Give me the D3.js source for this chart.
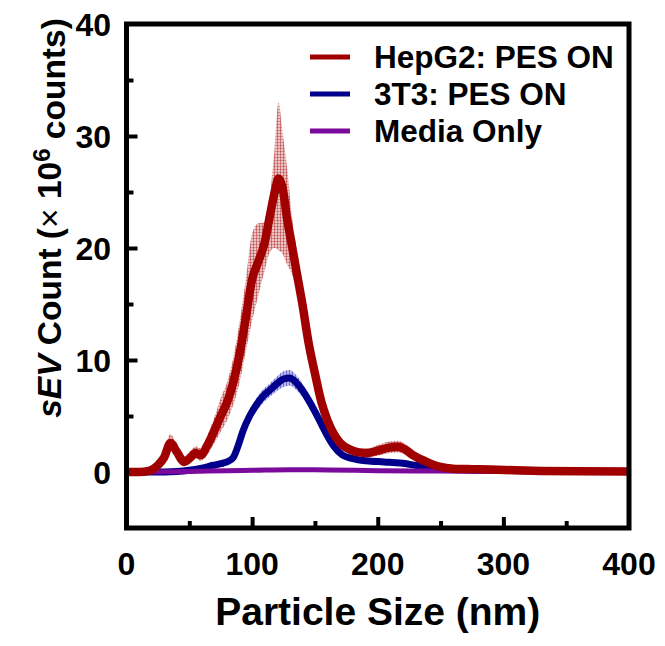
<!DOCTYPE html>
<html><head><meta charset="utf-8">
<script src="https://cdn.jsdelivr.net/npm/d3@7"></script>
<style>body{margin:0;background:#fff}svg{display:block}text{font-family:"Liberation Sans",Arial,sans-serif;font-weight:bold}</style>
</head><body>
<script>
// ---- data ----
const hepX = [0,10,18,25,30,35,40,46,51,55,59,64,70,75,80,85,90,95,100,105,110,114,118,121,124,128,132,136,140,145,150,155,160,165,170,178,185,192,200,208,216,222,228,235,242,250,260,275,290,310,330,360,400];
const hepMean = [0,0,0.1,0.6,1.3,2.6,1.8,0.9,1.3,1.7,1.5,2.3,3.7,5.0,6.2,8.0,10.5,13.8,17.2,18.8,20.5,22.8,25.0,26.2,25.5,22.5,20.0,17.5,15.0,11.5,8.8,6.3,4.6,3.4,2.6,2.0,1.75,1.7,1.9,2.15,2.25,2.0,1.5,1.1,0.75,0.45,0.3,0.25,0.22,0.15,0.1,0.07,0.05];
const hepUpper = [0,0,0.2,0.9,1.9,3.4,2.4,1.4,1.9,2.3,2.1,3.2,4.9,6.6,8.0,10.2,13.4,17.2,21.3,22.2,22.3,24.5,29.0,33.0,30.5,27.0,22.5,19.6,16.6,12.8,9.8,7.2,5.3,4.0,3.0,2.4,2.1,2.1,2.4,2.7,2.8,2.5,1.9,1.35,0.95,0.58,0.38,0.3,0.26,0.18,0.12,0.08,0.06];
const hepLower = [0,0,0.02,0.4,0.8,1.9,1.3,0.55,0.8,1.2,1.0,1.5,2.6,3.6,4.6,6.0,8.0,10.8,13.5,15.8,18.0,19.6,20.0,19.8,19.5,18.5,17.6,15.8,13.6,10.3,7.8,5.5,3.9,2.85,2.2,1.6,1.4,1.35,1.45,1.65,1.75,1.55,1.2,0.85,0.58,0.34,0.22,0.2,0.18,0.12,0.08,0.06,0.04];

const t3X = [0,20,40,50,60,69,75,80,85,89,93,98,104,109,114,120,125,130,135,140,144,150,155,160,165,172,180,191,205,218,230,244,258,271,290,320,360,400];
const t3Mean = [0,0,0.05,0.15,0.35,0.6,0.75,0.9,1.3,2.4,3.75,5.0,6.1,6.8,7.3,7.9,8.3,8.4,8.0,7.3,6.6,5.4,4.3,3.2,2.3,1.5,1.2,1.0,0.9,0.8,0.6,0.35,0.25,0.2,0.15,0.1,0.06,0.04];
const t3Upper = [0,0,0.07,0.2,0.45,0.72,0.9,1.1,1.6,2.8,4.25,5.55,6.7,7.4,7.9,8.55,9.0,9.1,8.65,7.9,7.15,5.9,4.75,3.6,2.6,1.75,1.38,1.14,1.02,0.9,0.68,0.41,0.3,0.24,0.18,0.12,0.08,0.05];
const t3Lower = [0,0,0.03,0.1,0.25,0.48,0.6,0.7,1.0,2.0,3.25,4.45,5.5,6.2,6.7,7.25,7.6,7.7,7.35,6.7,6.05,4.9,3.85,2.8,2.0,1.25,1.02,0.86,0.78,0.7,0.52,0.29,0.2,0.16,0.12,0.08,0.04,0.03];

const mediaX = [0,50,80,100,130,160,200,250,300,400];
const mediaMean = [0,0.05,0.12,0.15,0.2,0.18,0.12,0.08,0.05,0.03];

const seriesNames = ["HepG2: PES ON","3T3: PES ON","Media Only"];
const seriesColors = ["#a00000","#00008b","#7a0a9c"];
const xTicks = [0,100,200,300,400];
const xMinor = [50,150,250,350];
const yTicks = [0,10,20,30,40];
const yMinor = [5,15,25,35];

// ---- chart ----
const W = 665, H = 646;
const svg = d3.select("body").append("svg").attr("width", W).attr("height", H);
const x = d3.scaleLinear().domain([0,400]).range([126.5,629]);
const y = d3.scaleLinear().domain([-5,40]).range([528,24]);

const defs = svg.append("defs");
defs.append("clipPath").attr("id","clip").append("rect")
  .attr("x", x(0)).attr("y", y(40)).attr("width", x(400)-x(0)).attr("height", y(-5)-y(40));
const pr = defs.append("pattern").attr("id","hatchR").attr("patternUnits","userSpaceOnUse").attr("width",3).attr("height",3);
pr.append("rect").attr("width",3).attr("height",3).attr("fill","rgba(205,110,110,0.40)");
pr.append("rect").attr("x",1).attr("width",1).attr("height",3).attr("fill","rgba(175,30,30,0.45)");
pr.append("rect").attr("y",1).attr("width",3).attr("height",1).attr("fill","rgba(175,30,30,0.35)");
const pb = defs.append("pattern").attr("id","hatchB").attr("patternUnits","userSpaceOnUse").attr("width",3).attr("height",3);
pb.append("rect").attr("width",3).attr("height",3).attr("fill","rgba(100,100,210,0.45)");
pb.append("rect").attr("x",1).attr("width",1).attr("height",3).attr("fill","rgba(20,20,170,0.45)");

const g = svg.append("g").attr("clip-path","url(#clip)");
const curve = d3.curveMonotoneX;
function band(xs, lo, hi){ return d3.area().curve(curve).x((d,i)=>x(xs[i])).y0((d,i)=>y(lo[i])).y1((d,i)=>y(hi[i]))(xs); }
function line(xs, ys){ return d3.line().curve(curve).x((d,i)=>x(xs[i])).y((d,i)=>y(ys[i]))(xs); }

g.append("path").attr("d", band(t3X, t3Lower, t3Upper)).attr("fill","url(#hatchB)");
g.append("path").attr("d", line(t3X, t3Mean)).attr("fill","none").attr("stroke",seriesColors[1]).attr("stroke-width",7);
g.append("path").attr("d", line(mediaX, mediaMean)).attr("fill","none").attr("stroke",seriesColors[2]).attr("stroke-width",5);
g.append("path").attr("d", band(hepX, hepLower, hepUpper)).attr("fill","url(#hatchR)");
g.append("path").attr("d", line(hepX, hepMean)).attr("fill","none").attr("stroke",seriesColors[0]).attr("stroke-width",8.5).attr("stroke-linejoin","round");

// frame
svg.append("rect").attr("x",x(0)).attr("y",y(40)).attr("width",x(400)-x(0)).attr("height",y(-5)-y(40))
  .attr("fill","none").attr("stroke","#000").attr("stroke-width",5);

// axes via d3 (inward ticks)
function styleAxis(sel){ sel.select(".domain").remove(); sel.selectAll("line").attr("stroke","#000").attr("stroke-width",4); }
svg.append("g").attr("transform",`translate(0,${y(-5)})`)
  .call(d3.axisBottom(x).tickValues([100,200,300]).tickSize(-11).tickFormat("")).call(styleAxis);
svg.append("g").attr("transform",`translate(0,${y(-5)})`)
  .call(d3.axisBottom(x).tickValues(xMinor).tickSize(-7).tickFormat("")).call(styleAxis);
svg.append("g").selectAll("text").data(xTicks).join("text")
  .attr("x", d=>x(d)).attr("y", 575).attr("text-anchor","middle").attr("font-size",32).text(d=>d);

svg.append("g").attr("transform",`translate(${x(0)},0)`)
  .call(d3.axisLeft(y).tickValues([10,20,30]).tickSize(-11).tickFormat("")).call(styleAxis);
svg.append("g").attr("transform",`translate(${x(0)},0)`)
  .call(d3.axisLeft(y).tickValues(yMinor).tickSize(-7).tickFormat("")).call(styleAxis);
svg.append("g").selectAll("text").data(yTicks).join("text")
  .attr("x", 111).attr("y", d=>y(d)).attr("dy","0.36em").attr("text-anchor","end").attr("font-size",32).text(d=>d);

// axis titles
svg.append("text").attr("x",(x(0)+x(400))/2).attr("y",625).attr("text-anchor","middle").attr("font-size",39).text("Particle Size (nm)");
const yl = svg.append("text").attr("transform","translate(61,218) rotate(-90)").attr("text-anchor","middle").attr("font-size",33.5);
yl.append("tspan").attr("font-style","italic").text("sEV");
yl.append("tspan").text(" Count (");
yl.append("tspan").attr("font-weight","normal").text("×");
yl.append("tspan").text(" 10");
yl.append("tspan").attr("dy","-0.45em").attr("font-size",24).text("6");
yl.append("tspan").attr("dy","0.45em").text(" counts)");

// legend
const lg = svg.append("g").selectAll("g").data(seriesNames).join("g")
  .attr("transform",(d,i)=>`translate(0,${57 + i*37})`);
lg.append("line").attr("x1",310).attr("x2",350).attr("stroke",(d,i)=>seriesColors[i]).attr("stroke-width",5);
lg.append("text").attr("x",374).attr("dy","0.36em").attr("font-size",31.5).text(d=>d);
</script>
</body></html>
